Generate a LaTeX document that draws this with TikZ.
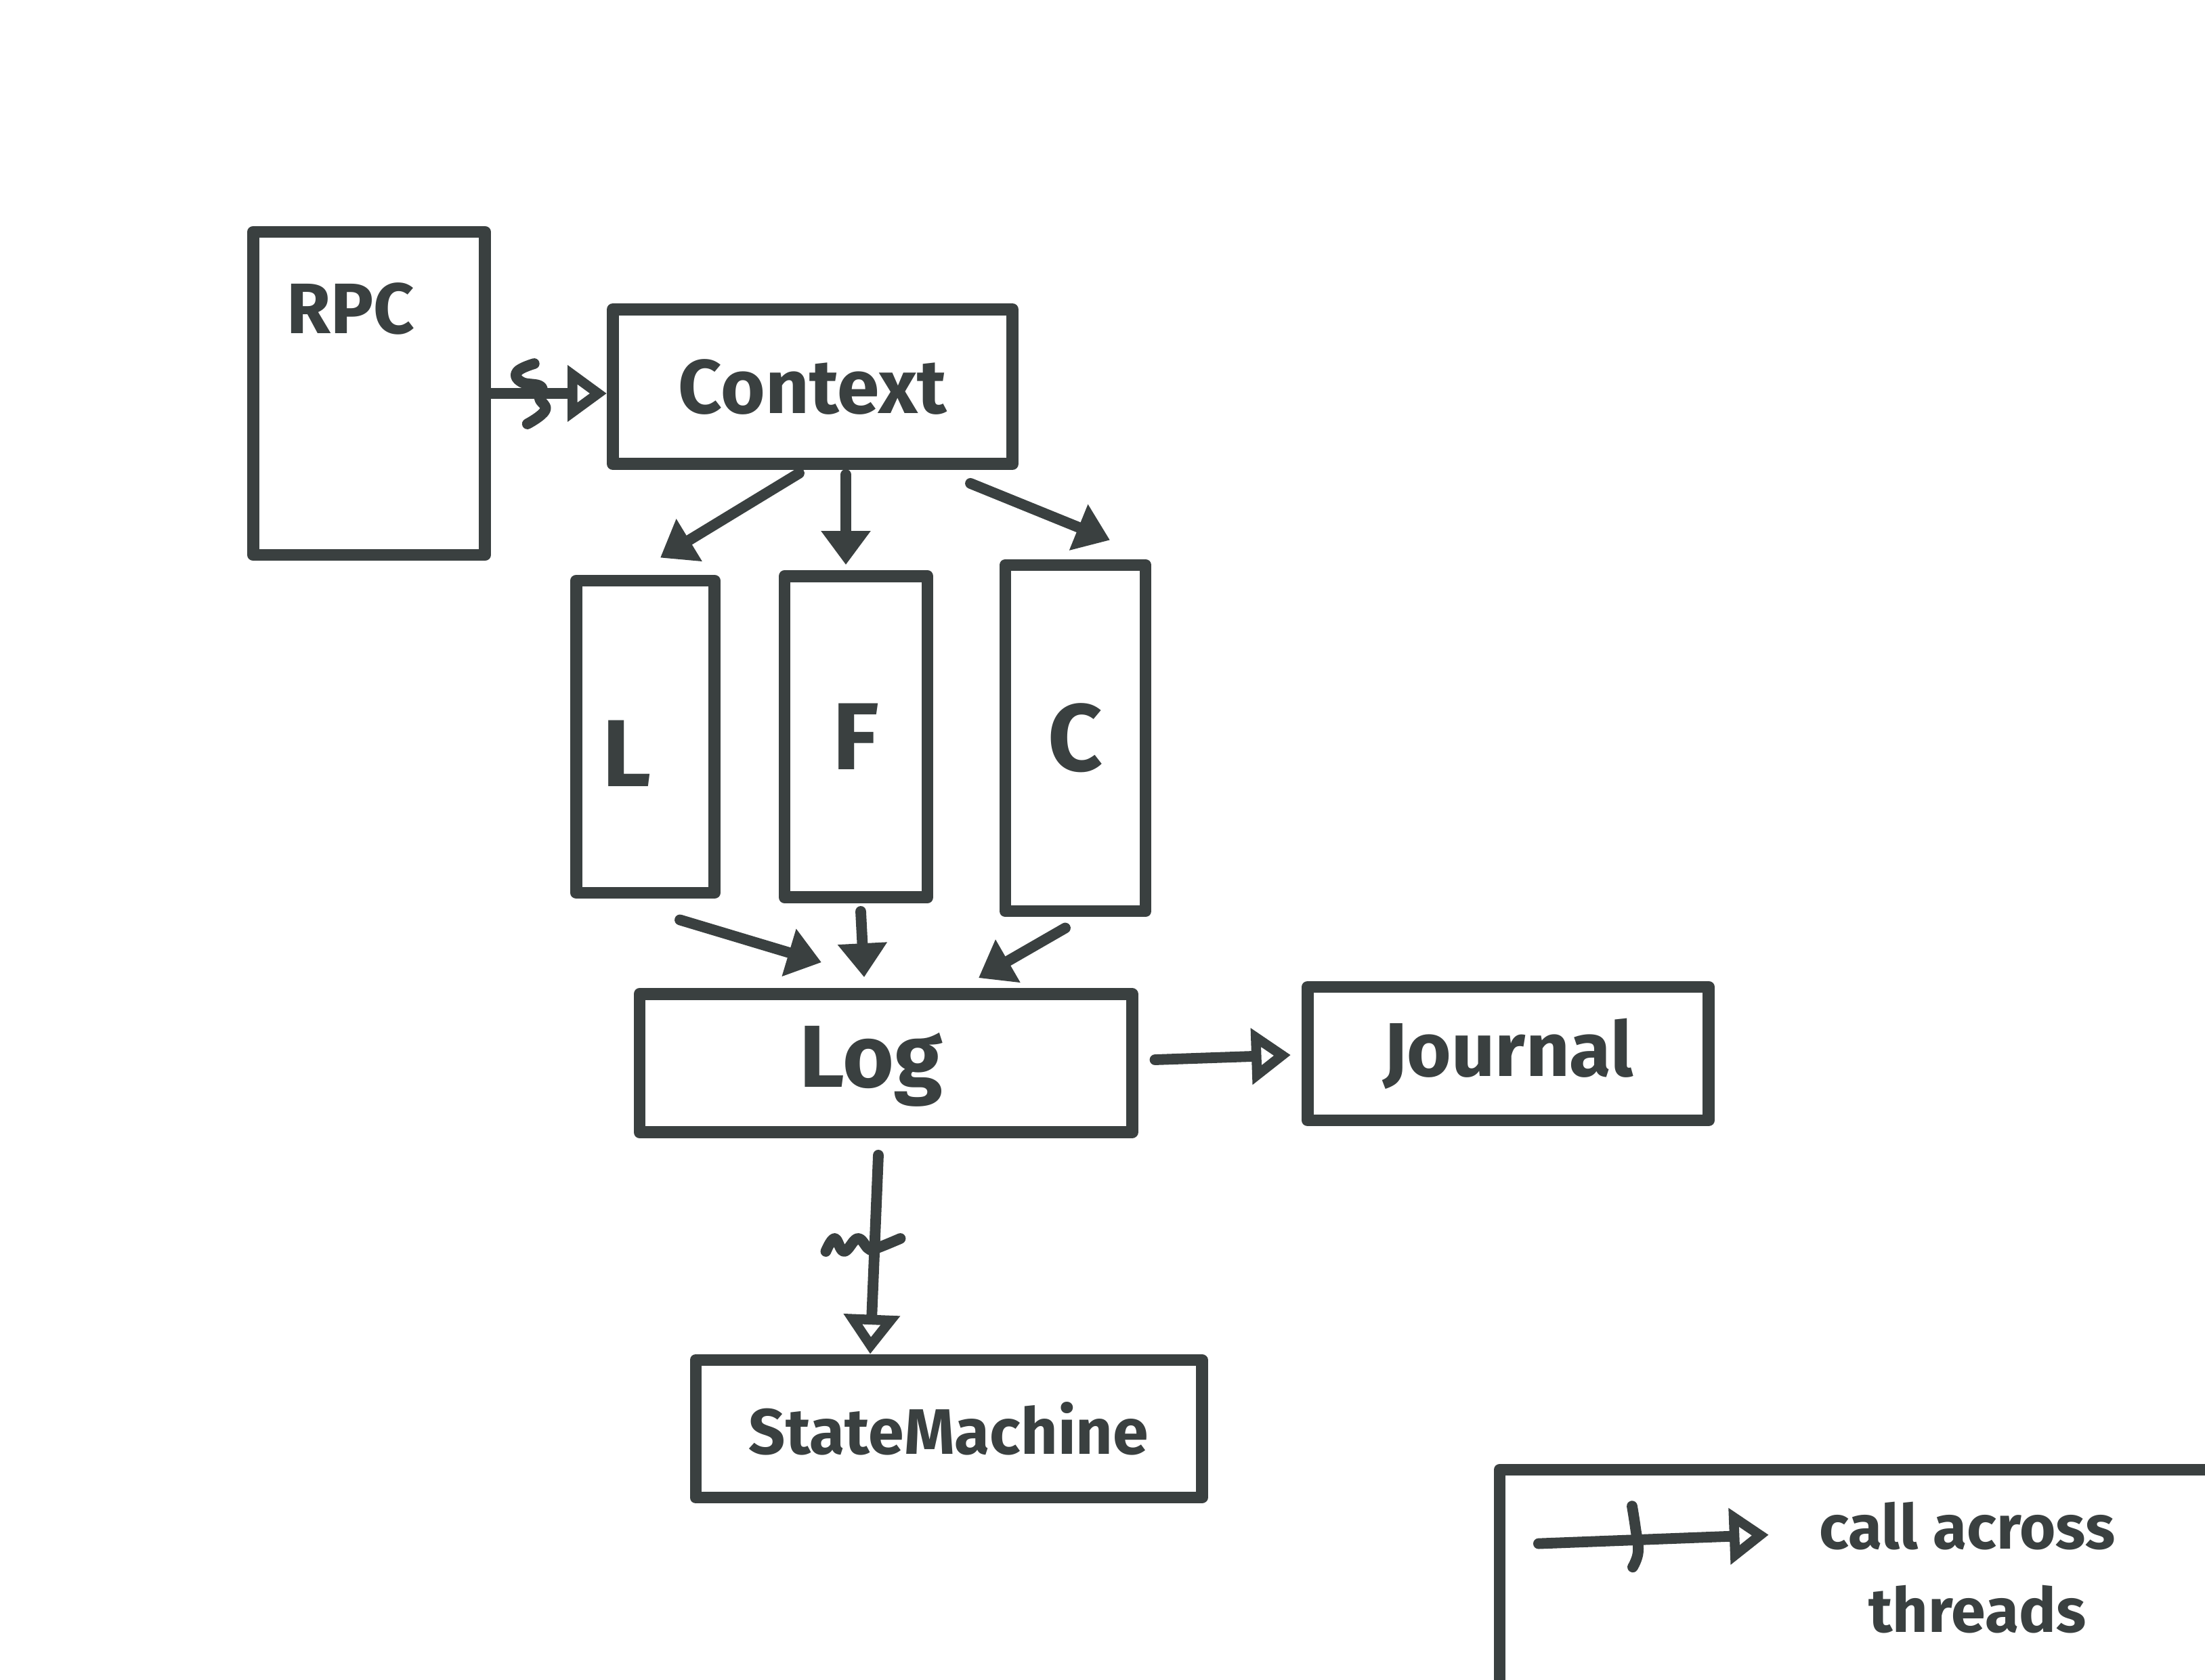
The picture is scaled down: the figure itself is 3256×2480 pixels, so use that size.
\documentclass[tikz,border=0pt]{standalone}
\usepackage{fontspec}
\setmainfont{Fira Sans}
\usetikzlibrary{arrows.meta,calc}
\definecolor{ink}{RGB}{58,64,64}
\begin{document}
\begin{tikzpicture}[x=0.01cm,y=-0.01cm,
  box/.style={draw=ink, line width=5pt, line join=round, inner sep=0pt, text=ink},
  conn/.style={draw=ink, line width=4.5pt, line cap=round, -{Triangle[length=0.5cm,width=0.7cm]}},
  xconn/.style={draw=ink, line width=4.5pt, line cap=round, -{Triangle[open,length=0.58cm,width=0.8cm]}},
  sq/.style={draw=ink, line width=4.5pt, line cap=round, line join=round},
  lbl/.style={text=ink, font=\bfseries}]
\useasboundingbox (0,0) rectangle (3256,2480);
% boxes
\node[box, minimum width=3.42cm, minimum height=4.77cm,
  label={[name=rpctxt, lbl, anchor=north, xshift=-0.27cm, yshift=-0.72cm, font=\bfseries\fontsize{30}{36}\selectfont]north:RPC}]
  (rpc) at (545,581) {};
\node[box, minimum width=5.9cm, minimum height=2.28cm, font=\bfseries\fontsize{32}{40}\selectfont] (ctx) at (1200,571) {Context};
\node[box, minimum width=2.04cm, minimum height=4.61cm,
  label={[name=Ltxt, lbl, xshift=-0.27cm, yshift=-0.25cm, font=\bfseries\fontsize{40}{48}\selectfont]center:L}] (L) at (953,1088) {};
\node[box, minimum width=2.11cm, minimum height=4.74cm, font=\bfseries\fontsize{40}{48}\selectfont] (F) at (1264,1088) {F};
\node[box, minimum width=2.07cm, minimum height=5.11cm, font=\bfseries\fontsize{40}{48}\selectfont] (C) at (1588,1090) {C};
\node[box, minimum width=7.27cm, minimum height=2.04cm,
  label={[name=logtxt, lbl, xshift=-0.22cm, yshift=-0.05cm, font=\bfseries\fontsize{37}{44}\selectfont]center:Log}] (log) at (1308,1570) {};
\node[box, minimum width=5.92cm, minimum height=1.97cm, font=\bfseries\fontsize{32}{40}\selectfont] (jour) at (2227,1556) {Journal};
\node[box, minimum width=7.47cm, minimum height=2.03cm, font=\bfseries\fontsize{27}{34}\selectfont] (sm) at (1401,2110) {StateMachine};
\node[box, minimum width=11.4cm, minimum height=4.35cm] (legend) at (2785,2388) {};
\node[lbl, align=center, font=\bfseries\fontsize{26}{35}\selectfont] (legtxt) at (2905,2315) {call across\\\hspace*{0.3cm}threads};
% RPC -> Context (across threads)
\draw[xconn] (rpc.east) -- (ctx.west |- rpc.east);
\coordinate (rpcsq) at ($(rpc.east)!0.35!(ctx.west |- rpc.east)$);
\draw[sq, shift={(rpcsq)}] plot[smooth, tension=0.8] coordinates {(4,-44) (-21,-32) (-15,-17) (14,-10) (12,7) (20,25) (-6,45)};
% Context -> L, F, C
\draw[conn] ($(ctx.south)+(-20,5)$) -- ($(L.north)+(22,-25)$);
\draw[conn] ($(ctx.south)+(49,7)$) -- ($(F.north)+(-15,-8)$);
\draw[conn] ($(ctx.south)+(233,20)$) -- ($(C.north)+(51,-28)$);
% L, F, C -> Log
\draw[conn] ($(L.south)+(51,31)$) -- ($(log.north)+(-95,-38)$);
\draw[conn] ($(F.south)+(7,12)$) -- ($(log.north)+(-32,-16)$);
\draw[conn] ($(C.south)+(-15,16)$) -- ($(log.north)+(137,-15)$);
% Log -> Journal
\draw[xconn] ($(log.east)+(25,-5)$) -- ($(jour.west)+(-16,2)$);
% Log -> StateMachine (across threads)
\coordinate (ls1) at ($(log.south)+(-11,25)$);
\coordinate (ls2) at ($(sm.north)+(-116,0)$);
\draw[xconn] (ls1) -- (ls2);
\coordinate (lssq) at ($(ls1)!0.46!(ls2)$);
\draw[sq, shift={(lssq)}] plot[smooth, tension=0.7] coordinates {(-72,7) (-59,-12) (-45,7) (-25,-12) (-9,3) (1,3) (38,-12)};
% legend arrow
\coordinate (la) at ($(legend.north west)+(66,118)$);
\coordinate (lb) at ($(legend.north west)+(406,105)$);
\draw[xconn] (la) -- (lb);
\coordinate (lgsq) at ($(la)!0.415!(lb)$);
\draw[sq, shift={(lgsq)}] plot[smooth, tension=0.7] coordinates {(-3,-50) (2,-18) (6,17) (-2,40)};
\end{tikzpicture}
\end{document}
